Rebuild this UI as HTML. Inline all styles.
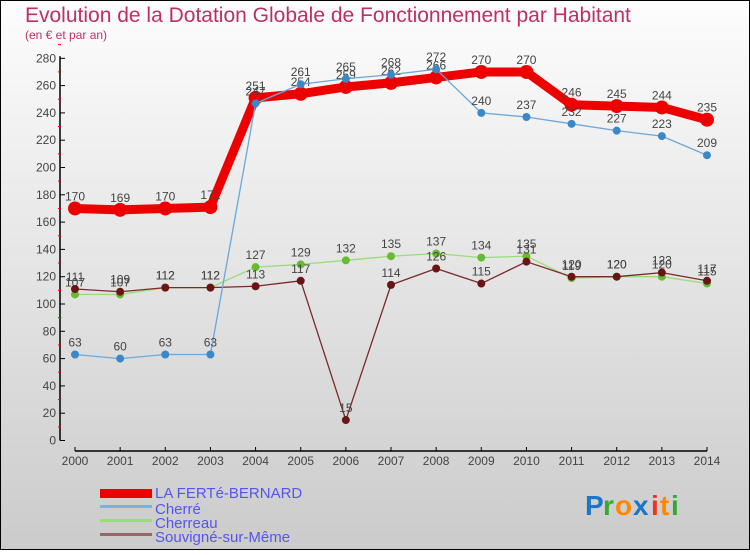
<!DOCTYPE html>
<html><head><meta charset="utf-8"><style>
html,body{margin:0;padding:0}
body{width:750px;height:550px;overflow:hidden;font-family:"Liberation Sans",sans-serif}
</style></head><body>
<svg width="750" height="550" xmlns="http://www.w3.org/2000/svg">
<defs><linearGradient id="bg" x1="0" y1="0" x2="0" y2="1"><stop offset="0" stop-color="#fdfdfd"/><stop offset="1" stop-color="#cbcbcb"/></linearGradient></defs>
<rect x="0.5" y="0.5" width="749" height="549" fill="url(#bg)" stroke="#000"/>
<text x="25" y="22" font-size="21" fill="#c0305f">Evolution de la Dotation Globale de Fonctionnement par Habitant</text>
<text x="25" y="39" font-size="12" fill="#c0305f">(en € et par an)</text>
<g id="axes"></g>
<g id="series"></g>
<g>
<rect x="100" y="489" width="52" height="9" fill="#e00"/>
<text x="155" y="498" font-size="15" fill="#5555ee">LA FERTé-BERNARD</text>
<rect x="100" y="505" width="52" height="3" fill="#7fb0d8"/>
<text x="155" y="514" font-size="15" fill="#5555ee">Cherré</text>
<rect x="100" y="519" width="52" height="3" fill="#99dd77"/>
<text x="155" y="528" font-size="15" fill="#5555ee">Cherreau</text>
<rect x="100" y="533" width="52" height="3" fill="#996666"/>
<text x="155" y="542" font-size="15" fill="#5555ee">Souvigné-sur-Même</text>
</g>
<g font-size="28" font-weight="bold">
<text x="585" y="515" fill="#1b75c9">P</text><text x="603" y="515" fill="#33aa33">r</text><text x="615" y="515" fill="#ff8800">o</text><text x="633" y="515" fill="#1b75c9">x</text><text x="651" y="515" fill="#ee3322">i</text><text x="660" y="515" fill="#ff8800">t</text><text x="671" y="515" fill="#33aa33">i</text>
</g>
</svg>
<script>
const years=[2000,2001,2002,2003,2004,2005,2006,2007,2008,2009,2010,2011,2012,2013,2014];
const yTicks=[0,20,40,60,80,100,120,140,160,180,200,220,240,260,280];
const ferte=[170,169,170,171,251,254,259,262,266,270,270,246,245,244,235];
const cherre=[63,60,63,63,247,261,265,268,272,240,237,232,227,223,209];
const cherreau=[107,107,112,112,127,129,132,135,137,134,135,119,120,120,115];
const souvigne=[111,109,112,112,113,117,15,114,126,115,131,120,120,123,117];
const NS="http://www.w3.org/2000/svg";
const X0=75,X1=707,Y0=440.5,YS=1.365;
function xs(i){return X0+i*(X1-X0)/(years.length-1);}
function ys(v){return Y0-v*YS;}
function mk(tag,attrs,parent){const e=document.createElementNS(NS,tag);for(const k in attrs)e.setAttribute(k,attrs[k]);parent.appendChild(e);return e;}
const ax=document.getElementById('axes');
let yl=mk('line',{x1:60,y1:ys(280)-2,x2:60,y2:Y0,stroke:'#000','stroke-width':1.5},ax);


yTicks.forEach(t=>{
 mk('line',{x1:60,y1:ys(t),x2:65,y2:ys(t),stroke:'#000'},ax);
 mk('line',{x1:58,y1:ys(t+10),x2:61,y2:ys(t+10),stroke:'#e00'},ax);
 const tx=mk('text',{x:56,y:ys(t)+4,'font-size':12,'text-anchor':'end',fill:'#444'},ax);
 tx.textContent=t;
 
 
});
let xl=mk('line',{x1:X0,y1:451,x2:X1,y2:451,stroke:'#000','stroke-width':1.5},ax);


years.forEach((y,i)=>{
 mk('line',{x1:xs(i),y1:447,x2:xs(i),y2:451,stroke:'#000'},ax);
 const tx=mk('text',{x:xs(i),y:465,'font-size':12,'text-anchor':'middle',fill:'#444'},ax);
 tx.textContent=y;
 
 
});
const sg=document.getElementById('series');
function drawSeries(vals,name,color,w,r,dotFill){
 const g=mk('g',{},sg);
 
 
 const pl=mk('polyline',{points:vals.map((v,i)=>xs(i)+','+ys(v)).join(' '),fill:'none',stroke:color,'stroke-width':w,'stroke-linejoin':'round'},g);
 
 
 vals.forEach((v,i)=>{
  const c=mk('circle',{cx:xs(i),cy:ys(v),r:r,fill:dotFill},g);
  
  
  const t=mk('text',{x:xs(i),y:ys(v)-8,'font-size':12,'text-anchor':'middle',fill:'#444'},g);
  t.textContent=v;
  
  
 });
}
drawSeries(cherreau,'cherreau','#99dd77',1.3,4,'#66bb33');
drawSeries(souvigne,'souvigne','#7a2a2a',1.3,4,'#6a1515');
drawSeries(ferte,'la-ferte-bernard','#ee0000',9,7,'#ee0000');
drawSeries(cherre,'cherre','#6aa8d8',1.3,4,'#3a88c8');
</script>
</body></html>
